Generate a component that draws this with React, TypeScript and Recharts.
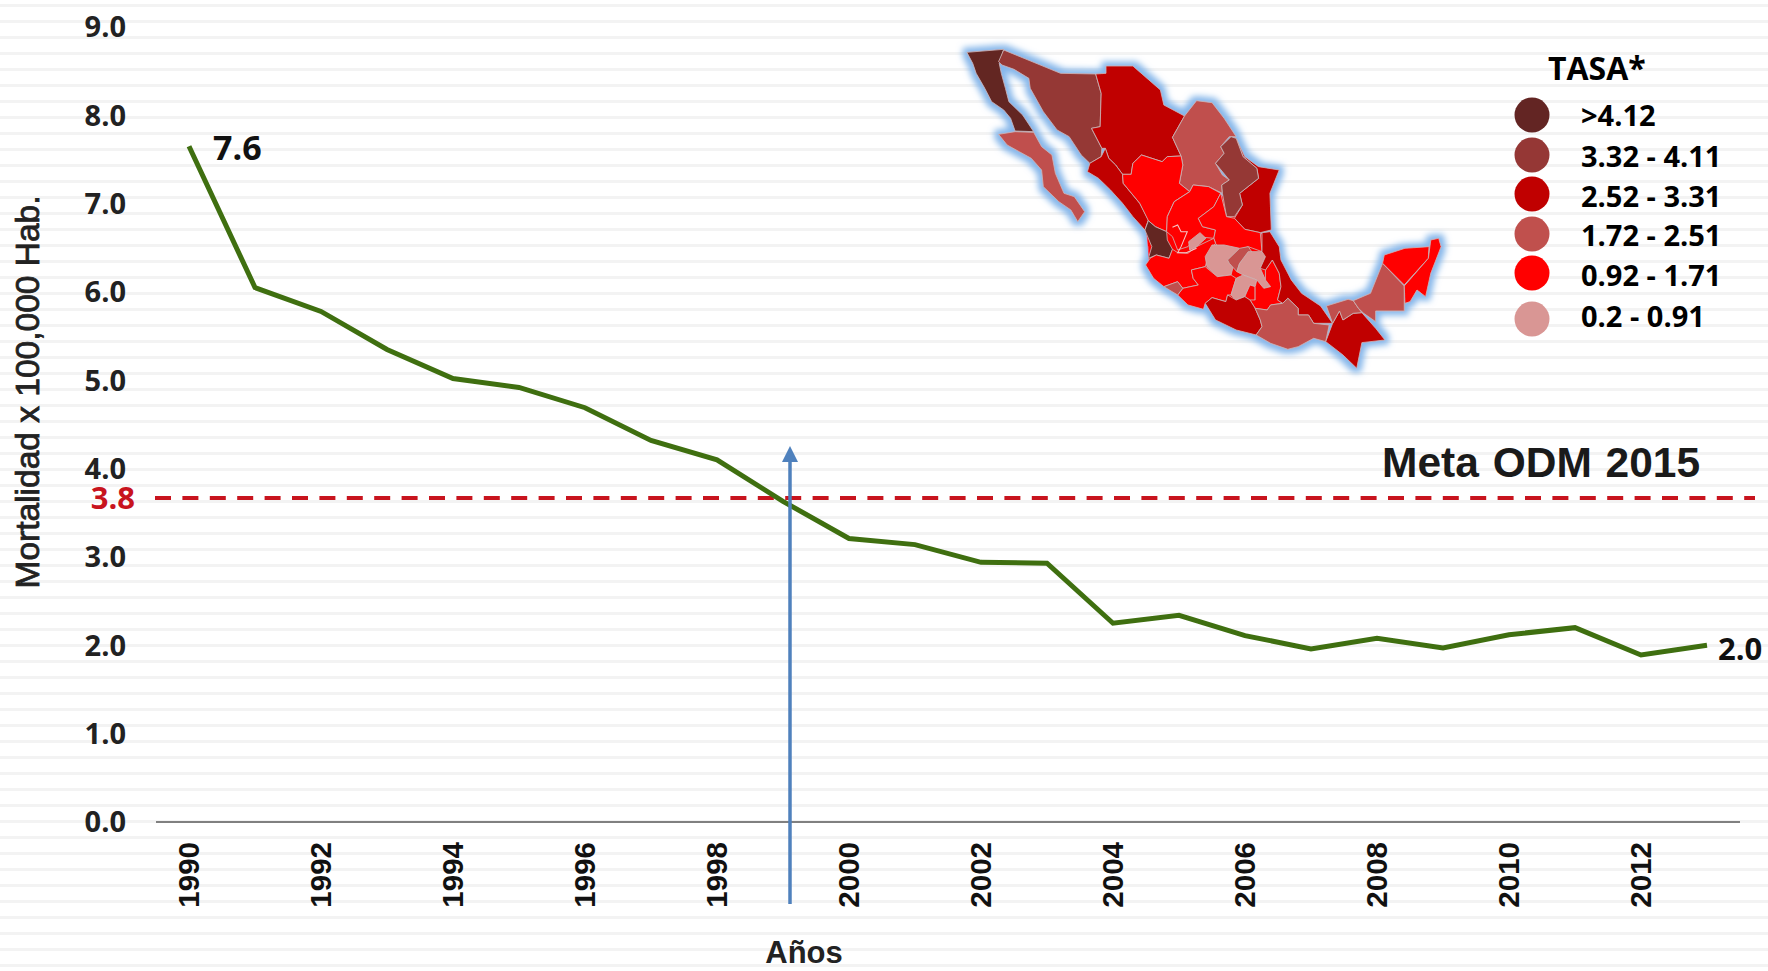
import React from "react";
import { LineChart, Line, XAxis, YAxis, ReferenceLine, Label } from "recharts";

const years = ["1990","1991","1992","1993","1994","1995","1996","1997","1998","1999","2000","2001","2002","2003","2004","2005","2006","2007","2008","2009","2010","2011","2012","2013"];
const mortality = [7.65,6.05,5.78,5.35,5.02,4.92,4.69,4.32,4.10,3.63,3.21,3.14,2.94,2.93,2.25,2.34,2.11,1.96,2.08,1.97,2.12,2.20,1.89,2.0];
const yTicks = [0,1,2,3,4,5,6,7,8,9];
const metaValue = 3.668;
const legendLabels = [">4.12","3.32 - 4.11","2.52 - 3.31","1.72 - 2.51","0.92 - 1.71","0.2 - 0.91"];
const legendColors = ["#632523","#953735","#c00000","#c0504d","#ff0000","#d99694"];
const legendY = [115,155,194,234,273,319];
const legendTextY = [126,167,207,246,286,327];

const chartData = years.map((year, i) => ({ year, value: mortality[i] }));

const [C1, C2, C3, C4, C5, C6] = legendColors;
const states: [string, string][] = [
  [C5,"600,600 660,560 800,480 930,608 985,700 1000,810 930,850 770,820 700,790 610,720"],
  [C1,"78,67 185,58 172,100 178,130 190,175 200,215 240,255 272,305 218,303 205,265 185,240 150,215 130,175 105,130 95,100"],
  [C4,"170,313 218,305 272,307 295,350 325,375 335,430 360,490 390,500 420,545 400,575 380,540 345,515 300,470 295,420 265,385 230,365 195,345"],
  [C2,"170,95 185,60 350,130 452,132 468,190 465,290 440,295 470,355 468,380 435,400 410,375 375,320 340,300 300,245 262,175 258,145 215,118 180,105"],
  [C3,"452,132 482,130 482,108 560,108 640,180 650,225 710,258 675,322 700,378 660,380 645,395 585,375 560,400 555,433 530,433 510,405 490,385 480,355 470,355 440,295 465,290 468,190"],
  [C4,"710,258 745,212 790,218 825,265 860,320 840,320 815,350 825,370 800,400 820,435 840,450 818,465 820,490 780,470 735,465 725,485 695,460 705,405 700,378 675,322"],
  [C3,"860,325 885,380 925,410 985,420 958,490 962,600 930,608 885,598 855,565 878,525 870,490 925,445 920,415 880,380"],
  [C2,"845,320 860,325 880,380 920,415 925,445 870,490 878,525 855,560 832,560 820,490 818,465 840,450 800,400 825,370 815,350"],
  [C3,"428,425 435,400 468,380 480,355 490,385 510,405 530,433 532,460 580,520 605,570 595,600 560,560 530,520 495,480 460,445"],
  [C5,"530,433 555,433 560,400 585,375 645,395 660,380 700,378 705,405 695,460 725,485 680,515 660,560 658,605 625,590 605,572 580,520 532,460"],
  [C5,"660,560 680,515 725,485 735,465 780,470 815,490 795,530 750,565 762,590 800,600 795,625 745,620 720,650 690,660 675,620 658,605"],
  [C5,"815,490 832,560 855,565 885,598 930,608 935,665 895,650 870,660 835,690 800,640 795,625 800,600 762,590 750,565 795,530"],
  [C1,"605,572 625,590 658,605 660,630 675,658 665,685 628,675 605,685 615,650 595,600"],
  [C5,"597,705 610,685 628,675 665,685 675,658 690,668 720,670 745,650 795,625 800,640 785,660 770,710 730,720 735,745 750,765 705,775 690,755 650,770 620,745"],
  [C6,"722,635 755,608 772,625 745,650 725,660"],
  [C6,"790,645 825,645 870,655 855,695 845,735 805,740 775,710 770,680"],
  [C4,"870,655 895,650 905,665 870,700 862,725 840,700 835,690"],
  [C6,"895,665 935,665 945,680 930,715 945,750 960,770 940,775 920,750 880,735 862,725 870,700"],
  [C5,"690,795 705,775 750,765 735,745 730,720 770,710 805,740 845,735 860,745 845,795 835,795 830,815 790,803 770,820 765,838 720,825"],
  [C4,"650,770 690,755 705,775 690,795"],
  [C6,"860,745 880,735 920,750 915,770 900,765 885,800 860,810 845,795"],
  [C5,"885,800 900,765 915,770 915,810 905,815"],
  [C5,"945,720 965,690 985,730 990,770 980,810 995,820 960,825 950,840 915,835 900,810 915,810 915,770 920,750 940,775 960,770 945,750"],
  [C3,"935,608 958,605 985,650 990,690 1020,750 1050,790 1105,828 1140,880 1085,880 1070,855 1040,855 1040,835 1010,805 995,820 980,810 990,770 985,730 965,690 945,720 930,715 945,680 935,665"],
  [C3,"770,820 790,803 830,815 835,795 860,810 885,800 900,810 915,835 930,870 935,890 918,915 860,900 800,870"],
  [C4,"915,835 950,840 960,825 995,820 1010,805 1040,835 1040,855 1070,855 1085,880 1130,885 1120,935 1085,925 1040,950 1010,958 960,940 918,915 935,890 930,870"],
  [C3,"1140,880 1160,843 1170,870 1200,850 1225,848 1265,895 1292,930 1225,938 1210,1015 1170,975 1120,935"],
  [C4,"1122,828 1185,808 1200,812 1215,835 1225,848 1200,850 1170,870 1160,843 1140,880"],
  [C4,"1200,812 1250,790 1285,700 1348,768 1348,843 1265,843 1265,875 1230,850 1215,835"],
  [C5,"1290,675 1350,655 1420,650 1418,685 1348,765 1285,700"],
  [C5,"1348,768 1418,685 1425,630 1448,625 1455,650 1425,730 1410,800 1385,780 1365,815 1350,820"],
];
const squiggle = "675,592 690,585 700,605 718,605 700,650 690,668 715,668 745,655";

const OPEN = "'Open Sans', sans-serif";
const LIB = "'Liberation Sans', Arial, sans-serif";

const XTick = (props: any) => {
  const { x, y, payload } = props;
  return (
    <text x={0} y={0} transform={`translate(${x + 10},${y + 12}) rotate(-90)`} textAnchor="end"
      fontFamily={LIB} fontWeight={700} fontSize={29.5} fill="#111">{payload.value}</text>
  );
};

const EndLabel = (props: any) => {
  const { x, y, index } = props;
  if (index === 0) return <text x={x + 24} y={y + 14} fontFamily={OPEN} fontWeight={700} fontSize={34} fill="#111">7.6</text>;
  if (index === years.length - 1) return <text x={x + 11} y={y + 15} fontFamily={OPEN} fontWeight={700} fontSize={31} fill="#111">2.0</text>;
  return null;
};

const MetaLine = (props: any) => {
  const { x1, x2, y1, y2 } = props;
  return (
    <g>
      <line x1={x1 - 1} x2={x2 + 15} y1={y1} y2={y2} stroke="#c8141e" strokeWidth={4} strokeDasharray="16 11.4" />
      <text x={135} y={y1 + 11} textAnchor="end" fontFamily={OPEN} fontWeight={700} fontSize={31} fill="#c8141e">3.8</text>
    </g>
  );
};

export default function App() {
  return (
    <div style={{
      position: "absolute", left: 0, top: 0, width: 1768, height: 971, overflow: "hidden",
      background: "repeating-linear-gradient(to bottom, #fff 0 4px, #f3f3f3 4px 7px, #fff 7px 16px)",
    }}>
      <LineChart width={1768} height={971} data={chartData} margin={{ top: 27, right: 28, bottom: 0, left: 0 }}>
        <XAxis dataKey="year" interval={1} height={149} tickLine={false} tick={<XTick />} padding={{ left: 33, right: 33 }}
          axisLine={{ stroke: "#808080", strokeWidth: 2 }}>
          <Label content={() => <text x={804} y={963} textAnchor="middle" fontFamily={LIB} fontWeight={700} fontSize={31} fill="#222">Años</text>} />
        </XAxis>
        <YAxis width={156} domain={[0, 9]} ticks={yTicks} axisLine={false} tickLine={false} tickMargin={24}
          tickFormatter={(v: number) => v.toFixed(1)}
          tick={{ fontFamily: OPEN, fontWeight: 700, fontSize: 29, fill: "#222" }}>
          <Label content={() => <text x={0} y={0} transform="translate(39,392) rotate(-90)" textAnchor="middle" fontFamily={LIB} fontSize={33.5} fontWeight={400} stroke="#222" strokeWidth={0.8} fill="#222">Mortalidad x 100,000 Hab.</text>} />
        </YAxis>
        <ReferenceLine y={metaValue} shape={<MetaLine />} ifOverflow="visible" />
        <Line type="linear" dataKey="value" stroke="#3f6f10" strokeWidth={5} dot={false} label={<EndLabel />} isAnimationActive={false} />
      </LineChart>

      <svg width={1768} height={971} style={{ position: "absolute", left: 0, top: 0, pointerEvents: "none" }}>
        <defs>
          <filter id="halo" x="-10%" y="-10%" width="120%" height="120%">
            <feMorphology in="SourceAlpha" operator="dilate" radius="12 11" result="d" />
            <feGaussianBlur in="d" stdDeviation="10" result="b" />
            <feFlood floodColor="#85b6ea" result="c" />
            <feComposite in="c" in2="b" operator="in" result="g" />
            <feMerge><feMergeNode in="g" /><feMergeNode in="SourceGraphic" /></feMerge>
          </filter>
        </defs>
        <g transform="translate(940,30) scale(0.3444,0.3333)">
          <g filter="url(#halo)">
            {states.map(([fill, pts], i) => (
              <polygon key={i} points={pts} fill={fill} stroke={i === 0 ? fill : "#cbb3b3"} strokeWidth={2.5} strokeLinejoin="round" />
            ))}
            <polyline points={squiggle} fill="none" stroke="#f3c9c9" strokeWidth={3} />
          </g>
        </g>

        <line x1={790} x2={790} y1={904} y2={458} stroke="#4f81bd" strokeWidth={3.5} />
        <polygon points="790,446 782,462 798,462" fill="#4f81bd" />

        <text x={1382} y={477} fontFamily={LIB} fontWeight={700} fontSize={42.5} wordSpacing={2} fill="#1a1a1a">Meta ODM 2015</text>

        <text x={1548} y={80} fontFamily={OPEN} fontWeight={700} fontSize={32} fill="#000">TASA*</text>
        {legendLabels.map((label, i) => (
          <g key={label}>
            <circle cx={1532} cy={legendY[i]} r={17.5} fill={legendColors[i]} />
            <text x={1581} y={legendTextY[i]} fontFamily={OPEN} fontWeight={700} fontSize={29} fill="#000">{label}</text>
          </g>
        ))}
      </svg>
    </div>
  );
}
